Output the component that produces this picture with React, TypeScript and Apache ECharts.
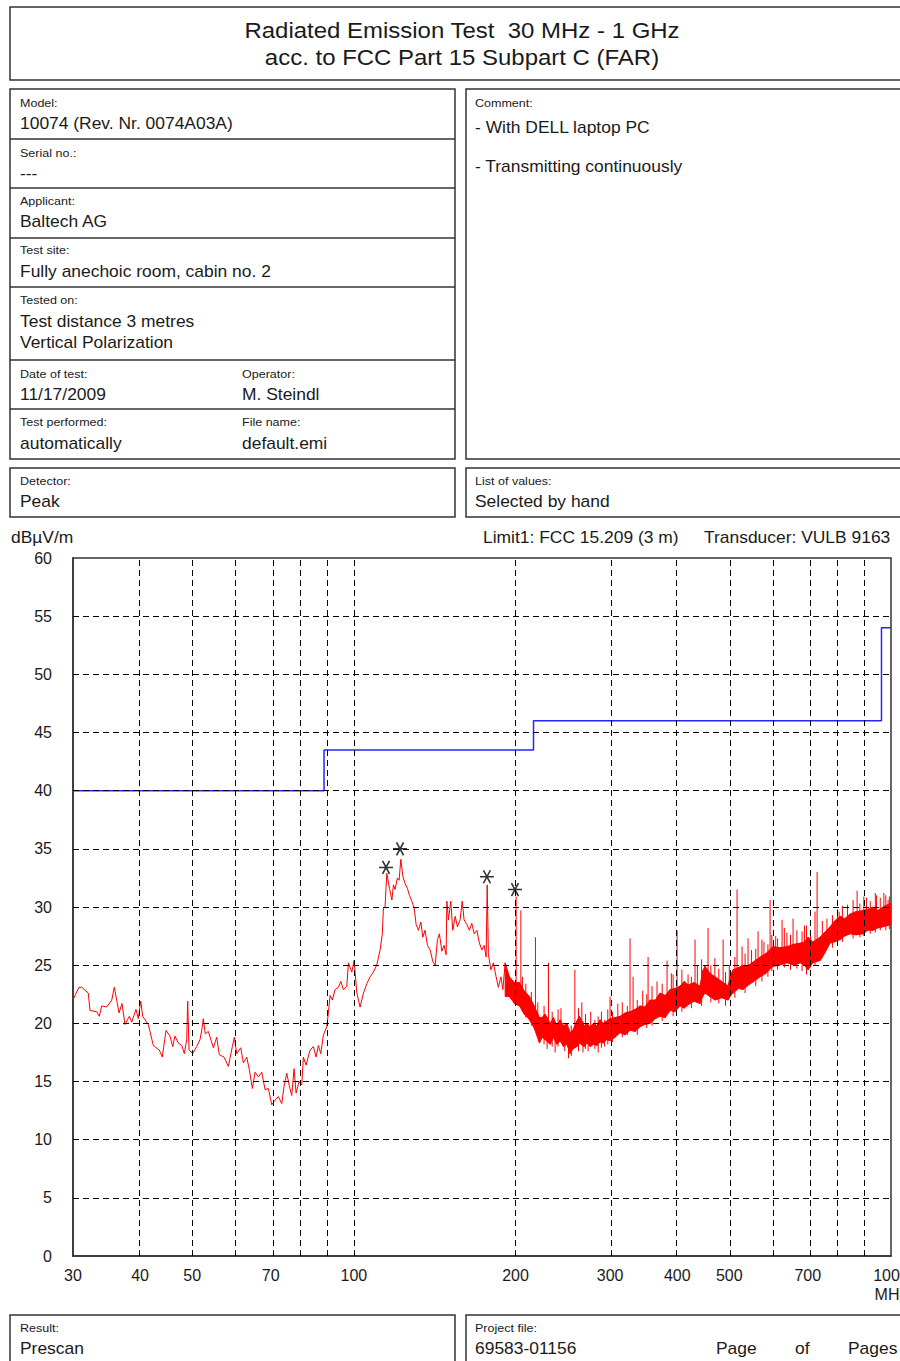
import React, { useEffect, useRef } from "react";
import * as echarts from "echarts";

// ---- Emission trace, 30 MHz .. ~191 MHz (MHz, dBµV/m) ----
const lineFreq = [
  30.0, 30.26, 30.78, 31.14, 32.03, 32.27, 33.21, 33.58, 33.93, 34.66, 35.42, 35.81, 36.18, 36.54, 37.01, 37.49,
  38.19, 38.59, 39.3, 39.69, 40.1, 40.45, 41.43, 42.33, 43.43, 43.99, 44.7, 45.47, 46.0, 46.45, 47.12, 47.81,
  48.34, 48.84, 49.05, 49.33, 50.12, 50.98, 51.71, 52.09, 52.45, 52.9, 53.59, 54.75, 55.55, 56.17, 57.32, 58.39,
  59.4, 59.91, 60.53, 61.58, 62.27, 63.18, 63.89, 64.72, 65.47, 66.4, 67.38, 68.34, 69.31, 70.33, 71.33, 72.35,
  73.42, 74.14, 75.01, 75.85, 76.63, 77.39, 78.06, 79.07, 79.99, 80.54, 81.47, 82.88, 84.07, 85.05, 85.89, 86.78,
  87.75, 89.04, 89.65, 90.31, 91.2, 92.26, 93.58, 94.55, 95.61, 97.02, 97.69, 99.12, 100.1, 101.3, 102.7, 104.2,
  105.7, 107.2, 108.7, 110.3, 111.9, 113.0, 113.5, 114.3, 114.8, 115.2, 116.5, 117.7, 118.5, 119.3, 120.5, 121.4,
  122.3, 123.4, 124.6, 125.8, 126.9, 128.2, 129.5, 130.6, 131.9, 133.3, 134.4, 135.7, 137.1, 138.7, 140.3, 141.7,
  143.1, 144.3, 145.8, 147.2, 148.5, 149.0, 150.0, 151.5, 152.8, 154.4, 155.9, 157.7, 159.1, 160.4, 162.3, 164.1,
  165.8, 167.5, 169.4, 171.3, 173.1, 174.8, 176.3, 177.1, 178.0, 179.9, 181.9, 184.0, 185.8, 187.8, 189.4, 191.3,
];
const lineLevel = [
  22.0, 22.4, 23.1, 23.1, 22.6, 21.1, 21.0, 20.6, 21.5, 21.4, 22.0, 23.1, 22.0, 20.9, 21.7, 19.9,
  20.6, 20.1, 21.2, 20.4, 21.9, 20.6, 19.9, 18.1, 17.7, 17.1, 19.4, 18.9, 18.0, 18.9, 18.3, 18.1,
  17.4, 18.6, 21.9, 17.7, 17.4, 18.0, 18.6, 19.4, 20.4, 19.1, 19.3, 17.9, 18.8, 17.3, 17.1, 16.3,
  18.0, 18.8, 17.4, 17.9, 16.6, 17.1, 16.0, 14.4, 15.8, 15.4, 15.8, 14.3, 14.4, 13.0, 13.4, 13.7,
  13.1, 14.6, 15.7, 14.6, 13.8, 16.1, 14.0, 15.0, 14.7, 17.1, 16.4, 17.7, 18.0, 17.1, 18.1, 17.4,
  19.0, 19.7, 20.9, 22.4, 22.0, 22.9, 23.1, 23.6, 22.9, 23.2, 25.2, 24.4, 25.4, 22.6, 21.4, 22.6,
  23.4, 24.0, 24.4, 25.0, 26.3, 27.7, 29.9, 30.0, 31.7, 32.9, 31.6, 30.6, 31.9, 31.5, 32.5, 32.3,
  34.1, 32.6, 32.0, 31.6, 31.0, 30.5, 29.9, 28.5, 28.0, 28.7, 27.4, 28.0, 26.7, 26.3, 25.3, 25.0,
  27.2, 27.7, 26.2, 26.7, 25.9, 30.5, 28.9, 30.5, 28.0, 29.2, 28.3, 28.9, 30.5, 28.9, 28.5, 28.0,
  28.6, 27.7, 28.0, 26.9, 26.3, 26.7, 25.7, 31.9, 26.0, 24.6, 25.2, 24.0, 23.1, 24.0, 22.9, 25.2,
];

// ---- Dense noise band, ~191 MHz .. 1 GHz: lower and upper edge (dBµV/m) ----
const bandFreq = [
  191.3, 194.8, 199.0, 203.4, 207.5, 212.3, 216.6, 221.6, 224.1, 227.0, 232.0, 235.3, 238.7, 242.1, 245.6, 249.2,
  252.7, 255.7, 260.1, 263.0, 268.4, 271.5, 275.4, 279.3, 283.4, 287.3, 291.4, 295.7, 299.9, 306.4, 313.0, 320.0,
  326.7, 334.0, 341.0, 348.0, 356.0, 364.0, 371.6, 380.0, 387.8, 396.0, 404.8, 412.0, 419.0, 430.0, 441.0, 446.0,
  450.6, 460.0, 470.3, 484.0, 497.4, 503.0, 508.1, 520.0, 530.0, 539.5, 555.0, 570.5, 585.0, 603.2, 620.0, 640.5,
  660.0, 677.3, 690.0, 700.9, 715.0, 737.9, 752.0, 770.3, 785.0, 804.0, 820.0, 839.2, 860.0, 887.3, 905.0, 926.2,
  945.0, 966.6, 985.0, 1000.0,
];
const bandLow = [
  22.3, 22.3, 21.7, 21.5, 20.8, 20.3, 19.6, 18.3, 18.8, 18.6, 18.2, 18.8, 18.2, 18.5, 18.0, 18.2,
  17.4, 17.8, 18.0, 18.3, 18.0, 18.3, 18.0, 18.2, 18.1, 18.4, 18.3, 18.6, 18.5, 18.8, 19.2, 19.0,
  19.4, 19.3, 19.7, 19.9, 20.0, 20.4, 20.6, 20.5, 21.1, 21.0, 21.5, 21.3, 21.6, 21.9, 21.7, 22.3,
  22.6, 22.3, 22.0, 22.2, 22.0, 22.4, 22.6, 23.0, 22.9, 23.2, 23.6, 24.0, 24.3, 24.9, 25.0, 25.2,
  25.0, 25.2, 25.0, 24.6, 25.2, 25.4, 26.0, 26.9, 27.0, 27.2, 27.5, 27.7, 27.6, 27.7, 28.0, 28.0,
  28.2, 28.3, 28.4, 28.5,
];
const bandHigh = [
  25.2, 24.0, 23.5, 23.5, 22.8, 22.3, 21.5, 20.5, 20.5, 20.8, 20.0, 20.5, 19.8, 20.3, 19.8, 20.0,
  19.2, 19.4, 20.2, 20.6, 19.8, 20.0, 19.7, 20.0, 19.8, 20.3, 20.0, 20.2, 20.4, 20.5, 20.6, 20.9,
  21.0, 21.2, 21.5, 21.4, 22.0, 22.0, 22.6, 22.4, 22.9, 23.0, 23.2, 23.6, 23.3, 23.5, 23.2, 24.5,
  24.9, 24.3, 24.0, 23.6, 23.2, 24.2, 24.6, 24.8, 25.0, 24.9, 25.3, 25.7, 26.0, 26.6, 26.5, 26.6,
  26.8, 26.9, 27.0, 27.4, 27.0, 27.4, 27.8, 28.3, 28.8, 29.2, 29.0, 29.4, 29.6, 29.7, 29.8, 30.0,
  29.7, 30.0, 30.2, 30.3,
];

// ---- Narrow-band spikes above the band ----
const spikeFreq = [
  200.5, 204.6, 217.8, 230.3, 243.0, 257.9, 265.7, 276.0, 299.9, 310.0, 326.7, 331.0, 345.0, 353.0,
  366.8, 382.9, 390.0, 399.7, 419.0, 431.7, 436.0, 456.4, 470.0, 486.9, 500.0, 516.9, 528.1, 541.8,
  550.0, 565.6, 580.0, 595.5, 610.0, 626.9, 640.0, 657.2, 690.0, 728.5, 760.0, 800.6, 830.0, 864.8,
  900.0, 940.0, 970.0, 987.6,
];
const spikeBase = [
  22.0, 22.5, 20.5, 19.5, 19.0, 19.0, 19.0, 19.0, 19.5, 19.5, 20.0, 20.2, 20.5, 20.5,
  21.0, 21.3, 22.0, 21.5, 21.8, 22.0, 22.5, 22.8, 23.0, 22.8, 22.8, 23.5, 23.5, 23.5,
  24.0, 24.2, 24.8, 25.0, 25.5, 25.3, 25.6, 25.5, 25.8, 26.0, 27.0, 27.5, 28.0, 28.0,
  28.7, 28.7, 29.0, 28.5,
];
const spikeTop = [
  30.9, 29.7, 27.4, 25.2, 21.3, 24.6, 21.8, 21.0, 22.3, 21.7, 27.3, 24.0, 22.8, 25.7,
  23.6, 25.4, 24.3, 28.0, 24.2, 27.2, 25.0, 28.2, 25.6, 27.2, 25.0, 31.5, 26.6, 27.3,
  26.3, 27.9, 27.0, 30.6, 27.5, 28.9, 27.8, 29.0, 28.4, 33.0, 29.0, 29.6, 30.2, 31.4,
  30.8, 31.0, 31.2, 30.6,
];

// ---- Short noise hairs on both edges of the band ----
const hairFreq = [
  206, 209, 214, 220, 226, 229, 234, 237, 240, 247, 251, 254, 262, 267, 270, 273,
  281, 285, 289, 293, 297, 303, 316, 323, 337, 351, 359, 375, 393, 408, 425, 444,
  462, 478, 492, 512, 535, 560, 575, 590, 600, 615, 633, 650, 668, 683, 696, 708,
  722, 745, 778, 795, 812, 850, 875, 890, 915, 935, 955, 978, 993,
];
const hairLow = [
  21.0, 20.5, 19.8, 19.0, 18.2, 17.8, 18.0, 17.5, 18.0, 17.6, 17.0, 17.2, 17.6, 17.5, 17.8, 17.6,
  17.8, 17.5, 17.9, 18.0, 18.2, 18.4, 18.8, 19.0, 19.0, 19.6, 19.8, 20.2, 20.6, 21.0, 21.3, 21.5,
  21.8, 21.7, 21.5, 22.2, 22.6, 23.2, 23.6, 24.0, 24.5, 24.6, 24.8, 24.6, 24.7, 24.5, 24.2, 24.8,
  25.0, 25.6, 26.5, 26.8, 27.0, 27.3, 27.4, 27.5, 27.7, 27.8, 28.0, 28.0, 28.1,
];
const hairHigh = [
  24.0, 23.4, 22.7, 21.8, 21.5, 20.5, 21.0, 20.0, 21.2, 19.8, 19.5, 19.8, 21.3, 20.2, 20.8, 19.9,
  20.3, 20.6, 21.0, 20.3, 21.2, 21.0, 21.8, 21.5, 22.0, 22.5, 23.2, 23.4, 24.2, 24.6, 24.0, 25.5,
  25.0, 24.7, 24.4, 25.7, 26.0, 26.4, 27.2, 26.8, 27.6, 27.3, 28.2, 27.6, 28.0, 27.9, 28.4, 28.0,
  29.6, 28.8, 29.3, 29.8, 30.1, 30.6, 30.3, 30.9, 30.5, 31.2, 30.8, 31.0, 30.9,
];

// ---- Selected peaks (markers) ----
const markerFreq = [114.8, 121.9, 176.9, 199.5];
const markerLevel = [33.4, 35.0, 32.6, 31.5];

// ---- Limit FCC 15.209 (3 m) ----
const limitFreq = [30, 88, 88, 216, 216, 960, 960, 1000];
const limitLevel = [40, 40, 43.5, 43.5, 46, 46, 54, 54];

// ---- Axes ----
const xLabelFreqs = [30, 40, 50, 70, 100, 200, 300, 400, 500, 700, 1000];
const xGridFreqs = [40, 50, 60, 70, 80, 90, 100, 200, 300, 400, 500, 600, 700, 800, 900];
const yGridLevels = [5, 10, 15, 20, 25, 30, 35, 40, 45, 50, 55];
const Y_MIN = 0;
const Y_MAX = 60;
const Y_STEP = 5;
const F_MIN = 30;
const F_MAX = 1000;

const FONT = "'Liberation Sans', Arial, sans-serif";
const SX = 1.09;
const RED = "#ff0000";

const lg = (f: number) => Math.log10(f);

function txt(text: string, x: number, y: number, size: number, align: string = "left") {
  return {
    type: "text",
    x,
    y,
    scaleX: SX,
    silent: true,
    style: { text, fontSize: size, fontFamily: FONT, fill: "#1a1a1a", align, verticalAlign: "middle" },
  };
}
function box(x: number, y: number, w: number, h: number) {
  return {
    type: "rect",
    silent: true,
    shape: { x, y, width: w, height: h },
    style: { fill: "none", stroke: "#333", lineWidth: 1.5 },
  };
}
function hline(x1: number, x2: number, y: number) {
  return {
    type: "line",
    silent: true,
    shape: { x1, y1: y, x2, y2: y },
    style: { stroke: "#333", lineWidth: 1.5 },
  };
}

export default function App() {
  const ref = useRef<HTMLDivElement>(null);

  useEffect(() => {
    if (!ref.current) return;
    const chart = echarts.init(ref.current, undefined, { renderer: "svg" });

    const spikeData: any[] = [];
    spikeFreq.forEach((f, i) => {
      spikeData.push([lg(f), spikeBase[i]]);
      spikeData.push([lg(f), spikeTop[i]]);
      spikeData.push([lg(f), "-"]);
    });
    hairFreq.forEach((f, i) => {
      spikeData.push([lg(f), hairLow[i]]);
      spikeData.push([lg(f), hairHigh[i]]);
      spikeData.push([lg(f), "-"]);
    });

    const bandData = bandFreq.slice(0, -1).map((f, i) => [
      lg(f),
      bandLow[i],
      bandHigh[i],
      lg(bandFreq[i + 1]),
      bandLow[i + 1],
      bandHigh[i + 1],
    ]);

    const L = 11.5;
    const V = 16;
    const graphic: any[] = [
      box(10, 7, 905, 73),
      txt("Radiated Emission Test  30 MHz - 1 GHz", 462, 30, 22, "center"),
      txt("acc. to FCC Part 15 Subpart C (FAR)", 462, 57, 22, "center"),

      box(10, 89, 445, 370),
      hline(10, 455, 139),
      hline(10, 455, 188),
      hline(10, 455, 238),
      hline(10, 455, 287),
      hline(10, 455, 360),
      hline(10, 455, 409),
      box(466, 89, 450, 370),
      box(10, 468, 445, 49),
      box(466, 468, 450, 49),
      box(10, 1315, 445, 80),
      box(466, 1315, 450, 80),

      txt("Model:", 20, 103, L),
      txt("10074 (Rev. Nr. 0074A03A)", 20, 124, V),
      txt("Serial no.:", 20, 153, L),
      txt("---", 20, 174, V),
      txt("Applicant:", 20, 201, L),
      txt("Baltech AG", 20, 222, V),
      txt("Test site:", 20, 250, L),
      txt("Fully anechoic room, cabin no. 2", 20, 272, V),
      txt("Tested on:", 20, 300, L),
      txt("Test distance 3 metres", 20, 322, V),
      txt("Vertical Polarization", 20, 343, V),
      txt("Date of test:", 20, 374, L),
      txt("11/17/2009", 20, 395, V),
      txt("Operator:", 242, 374, L),
      txt("M. Steindl", 242, 395, V),
      txt("Test performed:", 20, 422, L),
      txt("automatically", 20, 444, V),
      txt("File name:", 242, 422, L),
      txt("default.emi", 242, 444, V),

      txt("Comment:", 475, 103, L),
      txt("- With DELL laptop PC", 475, 128, V),
      txt("- Transmitting continuously", 475, 167, V),

      txt("Detector:", 20, 481, L),
      txt("Peak", 20, 502, V),
      txt("List of values:", 475, 481, L),
      txt("Selected by hand", 475, 502, V),

      txt("dBµV/m", 11, 538, V),
      txt("Limit1: FCC 15.209 (3 m)", 483, 538, V),
      txt("Transducer: VULB 9163", 704, 538, V),

      txt("Result:", 20, 1328, L),
      txt("Prescan", 20, 1349, V),
      txt("Project file:", 475, 1328, L),
      txt("69583-01156", 475, 1349, V),
      txt("Page", 716, 1349, V),
      txt("of", 795, 1349, V),
      txt("Pages", 848, 1349, V),
    ];

    const dashed = { color: "#000", width: 1, type: [6, 4] as any };

    chart.setOption({
      animation: false,
      textStyle: { fontFamily: FONT },
      grid: {
        left: 73,
        top: 558,
        width: 818,
        height: 698,
        show: true,
        borderColor: "#333",
        borderWidth: 1.5,
        backgroundColor: "transparent",
        containLabel: false,
        outerBoundsMode: "none",
      },
      xAxis: {
        type: "value",
        min: lg(F_MIN),
        max: lg(F_MAX),
        axisLine: { show: true, lineStyle: { color: "#333", width: 1.5 } },
        axisTick: { show: false },
        splitLine: { show: false },
        axisLabel: {
          customValues: xLabelFreqs.map(lg),
          formatter: (v: number) => {
            const f = Math.round(Math.pow(10, v));
            return f === 1000 ? "1000\nMHz" : String(f);
          },
          fontSize: 16,
          color: "#1a1a1a",
          margin: 10,
          lineHeight: 19,
          fontFamily: FONT,
          hideOverlap: false,
        },
      },
      yAxis: {
        type: "value",
        min: Y_MIN,
        max: Y_MAX,
        interval: Y_STEP,
        axisLine: { show: true, lineStyle: { color: "#333", width: 1.5 } },
        axisTick: { show: false },
        splitLine: { show: false },
        axisLabel: { fontSize: 16, color: "#1a1a1a", margin: 21, fontFamily: FONT },
      },
      graphic,
      series: [
        {
          name: "Emission",
          type: "line",
          z: 2,
          showSymbol: false,
          data: lineFreq.map((f, i) => [lg(f), lineLevel[i]]),
          lineStyle: { color: RED, width: 1 },
          itemStyle: { color: RED },
        },
        {
          name: "Band",
          type: "custom",
          z: 2,
          clip: true,
          encode: { x: [0, 3], y: [1, 2, 4, 5] },
          data: bandData,
          renderItem: (_params: any, api: any) => {
            const a = api.coord([api.value(0), api.value(1)]);
            const b = api.coord([api.value(0), api.value(2)]);
            const c = api.coord([api.value(3), api.value(5)]);
            const d = api.coord([api.value(3), api.value(4)]);
            return {
              type: "polygon",
              shape: { points: [a, b, c, d] },
              style: { fill: RED, stroke: RED, lineWidth: 1 },
            };
          },
        },
        {
          name: "Spikes",
          type: "line",
          z: 2,
          showSymbol: false,
          connectNulls: false,
          data: spikeData,
          lineStyle: { color: RED, width: 1 },
          itemStyle: { color: RED },
        },
        {
          name: "Grid",
          type: "line",
          z: 3,
          showSymbol: false,
          data: [[lg(F_MIN), Y_MIN]],
          lineStyle: { width: 0 },
          markLine: {
            silent: true,
            symbol: ["none", "none"],
            label: { show: false },
            lineStyle: dashed,
            data: [
              ...xGridFreqs.map((f) => ({ xAxis: lg(f) })),
              ...yGridLevels.map((v) => ({ yAxis: v })),
            ],
          },
        },
        {
          name: "Limit1",
          type: "line",
          z: 4,
          showSymbol: false,
          data: limitFreq.map((f, i) => [lg(f), limitLevel[i]]),
          lineStyle: { color: "#2424ff", width: 1.5 },
          itemStyle: { color: "#2424ff" },
        },
        {
          name: "Peaks",
          type: "scatter",
          z: 5,
          symbol: "path://M-6,0L6,0M-3,-5.2L3,5.2M-3,5.2L3,-5.2",
          symbolSize: [14, 13],
          data: markerFreq.map((f, i) => [lg(f), markerLevel[i]]),
          itemStyle: { color: "rgba(0,0,0,0)", borderColor: "#000", borderWidth: 1.6 },
        },
      ],
    });

    return () => chart.dispose();
  }, []);

  return (
    <div
      ref={ref}
      style={{ position: "absolute", left: 0, top: 0, width: 900, height: 1361, background: "#fff" }}
    />
  );
}
